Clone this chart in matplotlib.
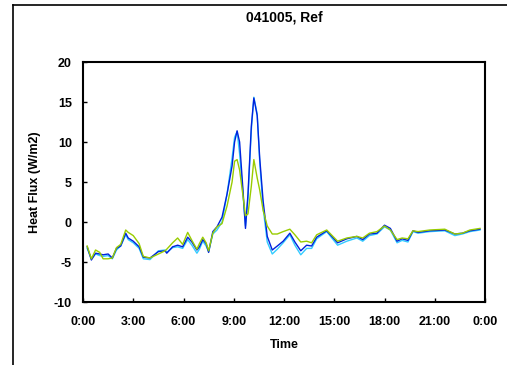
import matplotlib
matplotlib.use("Agg")
import matplotlib.pyplot as plt
from matplotlib.lines import Line2D

plt.rcParams['font.family'] = ['Liberation Sans', 'DejaVu Sans']

title = "041005, Ref"
x_label = "Time"
y_label = "Heat Flux (W/m2)"
x_ticks = [0, 3, 6, 9, 12, 15, 18, 21, 24]
x_tick_labels = ["0:00", "3:00", "6:00", "9:00", "12:00", "15:00", "18:00", "21:00", "0:00"]
y_ticks = [-10, -5, 0, 5, 10, 15, 20]

hours = [0.25, 0.5, 0.75, 1.0, 1.2, 1.5, 1.75, 2.0, 2.25, 2.55, 2.7, 3.0, 3.35, 3.6,
         4.0, 4.5, 4.9, 5.0, 5.35, 5.65, 5.95, 6.25, 6.5, 6.8, 6.95, 7.15, 7.35, 7.5,
         7.75, 8.0, 8.3, 8.6, 8.9, 9.05, 9.2, 9.35, 9.55, 9.7, 9.85, 10.05, 10.2, 10.4,
         10.55, 10.75, 11.0, 11.3, 11.6, 11.95, 12.35, 12.65, 13.0, 13.35, 13.65, 13.95,
         14.55, 15.2, 15.75, 16.35, 16.7, 17.1, 17.55, 18.0, 18.35, 18.75, 19.05, 19.4,
         19.7, 20.0, 20.7, 21.6, 22.2, 22.65, 23.1, 23.7]

blue = [-3.1, -4.75, -3.9, -4.0, -4.1, -4.0, -4.5, -3.3, -3.0, -1.4, -2.0, -2.4, -3.1, -4.4,
        -4.5, -3.7, -3.6, -3.9, -3.1, -2.9, -3.1, -1.9, -2.5, -3.5, -3.1, -2.2, -2.7, -3.8,
        -1.2, -0.6, 0.6, 3.5, 7.0, 10.0, 11.4, 10.0, 4.0, -0.8, 3.5, 12.0, 15.5, 13.3,
        8.0, 2.7, -1.8, -3.5, -3.0, -2.4, -1.4, -2.5, -3.6, -2.9, -3.0, -1.9,
        -1.1, -2.6, -2.1, -1.8, -2.2, -1.5, -1.4, -0.4, -0.8, -2.4, -2.1, -2.3,
        -1.1, -1.3, -1.1, -1.0, -1.5, -1.4, -1.1, -0.9]

cyan = [-3.3, -4.6, -4.0, -4.2, -4.3, -4.2, -4.6, -3.5, -3.0, -1.6, -2.2, -2.6, -3.3, -4.6,
        -4.7, -3.6, -3.5, -3.8, -3.2, -3.1, -3.3, -2.2, -2.9, -3.9, -3.4, -2.4, -3.0, -3.7,
        -1.5, -1.0, 0.0, 3.5, 8.0, 10.6, 11.3, 8.5, 3.5, -0.5, 3.0, 11.5, 15.6, 13.5,
        7.5, 1.8, -2.5, -4.0, -3.4, -2.6, -1.6, -2.9, -4.1, -3.3, -3.3, -2.1,
        -1.2, -2.9, -2.4, -2.0, -2.4, -1.7, -1.5, -0.6, -1.0, -2.6, -2.3, -2.5,
        -1.2, -1.4, -1.2, -1.1, -1.7, -1.5, -1.2, -1.0]

green = [-3.0, -4.6, -3.5, -3.8, -4.6, -4.6, -4.5, -3.2, -2.8, -1.0, -1.3, -1.7, -2.7, -4.3,
         -4.5, -4.0, -3.6, -3.4, -2.6, -2.0, -2.8, -1.3, -2.3, -3.4, -2.7, -1.9, -2.6, -3.6,
         -1.4, -0.6, -0.2, 2.0, 5.0, 7.6, 7.8, 6.5, 3.3, 0.8, 1.0, 4.5, 7.8, 5.5,
         4.0, 1.5, -0.5, -1.5, -1.5, -1.2, -0.9, -1.6, -2.5, -2.4, -2.6, -1.6,
         -1.0, -2.4, -2.0, -1.8, -2.0, -1.4, -1.2, -0.5, -1.0, -2.2, -2.0, -2.1,
         -1.1, -1.2, -1.0, -0.9, -1.5, -1.4, -1.0, -0.8]

fig = plt.figure(figsize=(5.07, 3.65), dpi=100)
ax = fig.add_axes([83/507, 1-302/365, 402/507, 240/365])

ax.plot(hours, cyan, color='#33CCFF', lw=1.0)
ax.plot(hours, blue, color='#0022DD', lw=1.0)
ax.plot(hours, green, color='#99CC00', lw=1.0)

ax.set_xlim(0, 24)
ax.set_ylim(-10, 20)
ax.set_xticks(x_ticks)
ax.set_xticklabels(x_tick_labels, fontsize=9, fontweight='bold')
ax.set_yticks(y_ticks)
ax.set_yticklabels([str(v) for v in y_ticks], fontsize=9, fontweight='bold')
ax.tick_params(direction='in', length=3, width=1, pad=8)
ax.tick_params(axis='x', pad=10)
for s in ax.spines.values():
    s.set_linewidth(1.5)
    s.set_color('black')

ax.set_xlabel(x_label, fontsize=9, fontweight='bold', labelpad=8)
ax.set_ylabel(y_label, fontsize=9, fontweight='bold', labelpad=9)
fig.text(284/507, 1-18/365, title, ha='center', va='center', fontsize=10, fontweight='bold')

fig.add_artist(Line2D([13/507, 13/507], [0, 1-5/365], transform=fig.transFigure, color='black', lw=1.2))
fig.add_artist(Line2D([13/507, 1], [1-5/365, 1-5/365], transform=fig.transFigure, color='black', lw=1.2))

fig.savefig("out.png", dpi=100)
